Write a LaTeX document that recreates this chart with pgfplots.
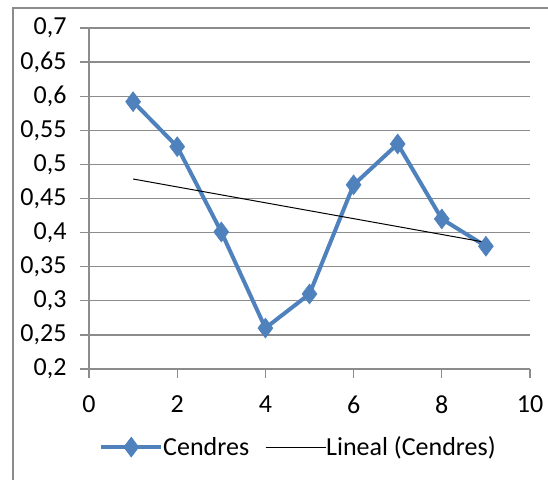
\documentclass[border=0pt]{standalone}
\usepackage{pgfplots}
\pgfplotsset{compat=1.18}
\usepackage{fontspec}
\setmainfont{Carlito}
\definecolor{exblue}{HTML}{4F81BD}
\definecolor{gridgray}{HTML}{8C8C8C}
\begin{document}
\begin{tikzpicture}
\useasboundingbox (0pt,0pt) rectangle (548pt,479pt);
\begin{scope}
\clip (0pt,0pt) rectangle (548pt,479pt);
\draw[gridgray, line width=1.2pt] (13pt,-5pt) -- (13pt,471pt) -- (560pt,471pt);
\end{scope}
\begin{axis}[
  at={(89pt,110pt)}, anchor=south west,
  scale only axis, width=441pt, height=341pt,
  xmin=0, xmax=10, ymin=0.2, ymax=0.7,
  xtick={0,2,4,6,8,10},
  ytick={0.2,0.25,0.3,0.35,0.4,0.45,0.5,0.55,0.6,0.65,0.7},
  yticklabels={{0,2},{0,25},{0,3},{0,35},{0,4},{0,45},{0,5},{0,55},{0,6},{0,65},{0,7}},
  xticklabels={0,2,4,6,8,10},
  axis x line*=bottom, axis y line*=left,
  axis line style={gridgray, line width=1.2pt, -},
  ymajorgrids, xmajorgrids=false, grid style={gridgray, line width=1.2pt},
  tick align=outside, major tick length=9pt,
  tick style={gridgray, line width=1.2pt},
  every tick label/.append style={font=\fontsize{26}{30}\selectfont, black},
  xticklabel style={yshift=-14pt},
  yticklabel style={xshift=-10pt},
  legend columns=2,
  legend style={at={(0.475,-0.229)}, anchor=center, draw=none, fill=none,
    font=\fontsize{26}{30}\selectfont,
    /tikz/every even column/.append style={column sep=14pt},
    /tikz/every odd column/.append style={column sep=-2pt}},
  legend image code/.code={\draw[#1] (0pt,0pt) -- (60pt,0pt); \draw[#1, mark repeat=2, mark phase=2] plot coordinates {(0pt,0pt) (30pt,0pt) (60pt,0pt)};},
]
\addplot[exblue, line width=4pt, mark=diamond*, mark size=10pt, mark options={line width=0.5pt}]
  coordinates {(1,0.592) (2,0.526) (3,0.401) (4,0.26) (5,0.31) (6,0.47) (7,0.53) (8,0.42) (9,0.38)};
\addlegendentry{Cendres}
\addplot[black, line width=1pt, no marks]
  coordinates {(1,0.4786) (9,0.3856)};
\addlegendentry{Lineal (Cendres)}
\end{axis}
\end{tikzpicture}
\end{document}
